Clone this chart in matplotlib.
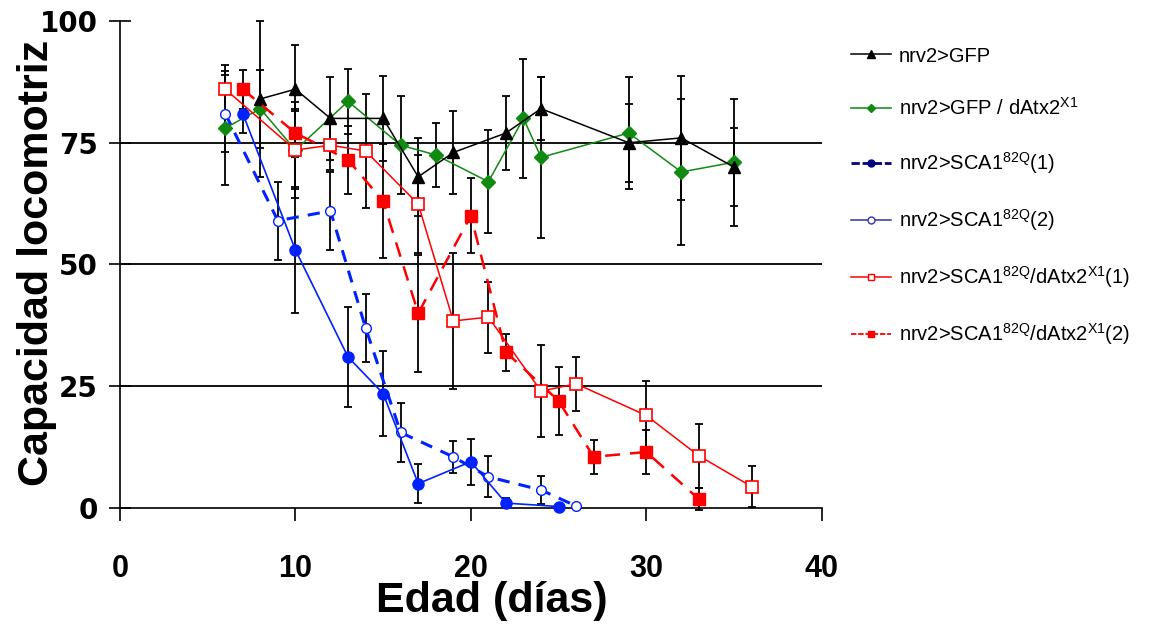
import matplotlib
matplotlib.use("Agg")
import matplotlib.pyplot as plt
from matplotlib.lines import Line2D

plt.rcParams['font.family'] = ['Liberation Sans', 'DejaVu Sans']
plt.rcParams['mathtext.fontset'] = 'custom'
plt.rcParams['mathtext.rm'] = 'Liberation Sans'

# ---- data ----
gfp_x = [8, 10, 12, 15, 17, 19, 22, 24, 29, 32, 35]
gfp_y = [84, 86, 80, 80, 68, 73, 77, 82, 75, 76, 70]
gfp_e = [16, 9, 8.5, 8.7, 8, 8.5, 7.5, 6.5, 8, 12.7, 8]

atx_x = [6, 8, 10, 13, 16, 18, 21, 23, 24, 29, 32, 35]
atx_y = [78, 82, 73.5, 83.5, 74.5, 72.5, 67, 80, 72, 77, 69, 71]
atx_e = [11.7, 8, 9.8, 6.7, 10, 6.6, 10.6, 12.3, 16.5, 11.5, 15, 13]

sca1_x = [7, 10, 13, 15, 17, 20, 22, 25]
sca1_y = [81, 53, 31, 23.5, 5, 9.5, 1, 0.3]
sca1_e = [4, 13, 10.3, 8.7, 4, 4.7, 1, 0.5]

sca2_x = [6, 9, 12, 14, 16, 19, 21, 24, 26]
sca2_y = [81, 59, 61, 37, 15.5, 10.5, 6.4, 3.7, 0.4]
sca2_e = [8, 8, 8, 7, 6, 3.3, 4.2, 2.8, 0.5]

red1_x = [6, 10, 12, 14, 17, 19, 21, 24, 26, 30, 33, 36]
red1_y = [86, 73.5, 74.5, 73.3, 62.4, 38.4, 39.2, 24, 25.5, 19, 10.7, 4.4]
red1_e = [5, 8, 5, 11.8, 10, 14, 7.3, 9.5, 5.6, 7, 6.5, 4.3]

red2_x = [7, 10, 13, 15, 17, 20, 22, 25, 27, 30, 33]
red2_y = [86, 77, 71.5, 63, 40, 60, 32, 22, 10.5, 11.5, 1.8]
red2_e = [4, 5, 7, 11.7, 12, 7.7, 3.8, 7, 3.5, 4.5, 2.3]

labels = [
    'nrv2>GFP',
    r'nrv2>GFP / dAtx2$\mathregular{^{X1}}$',
    r'nrv2>SCA1$\mathregular{^{82Q}}$(1)',
    r'nrv2>SCA1$\mathregular{^{82Q}}$(2)',
    r'nrv2>SCA1$\mathregular{^{82Q}}$/dAtx2$\mathregular{^{X1}}$(1)',
    r'nrv2>SCA1$\mathregular{^{82Q}}$/dAtx2$\mathregular{^{X1}}$(2)',
]
xticks = [0, 10, 20, 30, 40]
yticks = [0, 25, 50, 75, 100]

fig = plt.figure(figsize=(11.59, 6.29), dpi=100)
ax = fig.add_axes([0.1035, 0.1924, 0.6055, 0.7742])

for v in [25, 50, 75]:
    ax.axhline(v, color='black', lw=1.3, zorder=1)

series = [
    (atx_x, atx_y, atx_e, dict(color='#108a10', lw=1.1, ls='-', marker='D', ms=7,
                               mfc='#108a10', mec='#108a10')),
    (gfp_x, gfp_y, gfp_e, dict(color='black', lw=1.1, ls='-', marker='^', ms=9,
                               mfc='black', mec='black')),
    (sca2_x, sca2_y, sca2_e, dict(color='#0022ff', lw=2.2, ls=(0, (4, 3)), marker='o', ms=7,
                                  mfc='white', mec='#0022ff', mew=1.0)),
    (sca1_x, sca1_y, sca1_e, dict(color='#0022ff', lw=1.2, ls='-', marker='o', ms=8,
                                  mfc='#0022ff', mec='#0022ff')),
    (red2_x, red2_y, red2_e, dict(color='#ff0000', lw=1.8, ls=(0, (6, 4)), marker='s', ms=8.5,
                                  mfc='#ff0000', mec='#ff0000')),
    (red1_x, red1_y, red1_e, dict(color='#ff0000', lw=1.1, ls='-', marker='s', ms=8,
                                  mfc='white', mec='#ff0000', mew=1.2)),
]
for xs, ys, es, st in series:
    ax.errorbar(xs, ys, yerr=es, fmt='none', ecolor='black', elinewidth=1.3,
                capsize=3, capthick=1.3, zorder=2, clip_on=False)
    ax.plot(xs, ys, zorder=3, clip_on=False, **st)

ax.set_xlim(0, 40)
ax.set_ylim(0, 100)
ax.set_xticks(xticks)
ax.set_yticks(yticks)
ax.set_xticklabels([str(t) for t in xticks], fontsize=22, fontweight='bold')
ax.set_yticklabels([str(t) for t in yticks], fontsize=20, fontweight='bold',
                   family=['DejaVu Sans'])
ax.tick_params(axis='y', direction='inout', length=16, width=1.2, pad=8)
ax.tick_params(axis='x', direction='out', length=9, width=1.2, pad=24)
for s in ['top', 'right']:
    ax.spines[s].set_visible(False)
for s in ['left', 'bottom']:
    ax.spines[s].set_linewidth(1.2)

ax.set_ylabel('Capacidad locomotriz', fontsize=31, fontweight='bold')
ax.yaxis.set_label_coords(-0.09, 0.503)
ax.set_xlabel('Edad (días)', fontsize=31, fontweight='bold')
ax.xaxis.set_label_coords(0.53, -0.15)

handles = [
    Line2D([], [], color='black', lw=1.1, marker='^', ms=6, mfc='black', mec='black'),
    Line2D([], [], color='#339933', lw=1.3, marker='D', ms=4.5, mfc='#108a10', mec='#108a10'),
    Line2D([], [], color='#000080', lw=2.0, ls=(0, (3, 1)), marker='o', ms=5, mfc='#000080', mec='#000080'),
    Line2D([], [], color='#3333aa', lw=1.1, marker='o', ms=5, mfc='white', mec='#3333aa'),
    Line2D([], [], color='#ff0000', lw=1.1, marker='s', ms=5, mfc='white', mec='#ff0000'),
    Line2D([], [], color='#ff0000', lw=1.3, ls=(0, (3, 1)), marker='s', ms=5, mfc='#ff0000', mec='#ff0000'),
]
fig.legend(handles, labels, loc='upper left', bbox_to_anchor=(0.734, 0.926),
           frameon=False, fontsize=14.5, labelspacing=1.55, handlelength=2.0,
           handletextpad=0.4, borderpad=0, borderaxespad=0)

fig.savefig('out.png', dpi=100)
